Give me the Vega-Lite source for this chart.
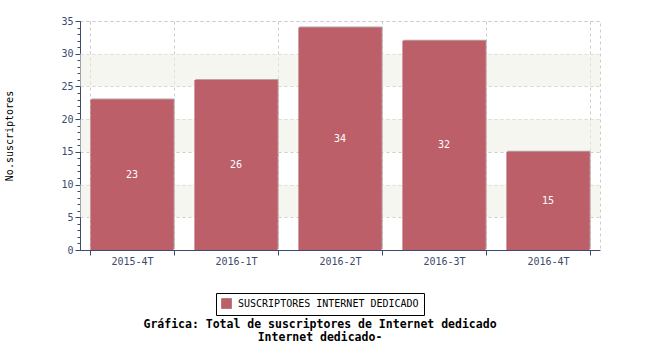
{
  "$schema": "https://vega.github.io/schema/vega-lite/v6.json",
  "width": 520,
  "height": 229,
  "autosize": {"type": "none"},
  "padding": {"left": 80, "top": 21, "right": 50, "bottom": 100},
  "background": "white",
  "config": {
    "font": "DejaVu Sans Mono",
    "view": {"stroke": "#cccccc", "strokeDash": [3, 3]}
  },
  "datasets": {
    "bars": [
      {"periodo": "2015-4T", "valor": 23, "serie": "SUSCRIPTORES INTERNET DEDICADO"},
      {"periodo": "2016-1T", "valor": 26, "serie": "SUSCRIPTORES INTERNET DEDICADO"},
      {"periodo": "2016-2T", "valor": 34, "serie": "SUSCRIPTORES INTERNET DEDICADO"},
      {"periodo": "2016-3T", "valor": 32, "serie": "SUSCRIPTORES INTERNET DEDICADO"},
      {"periodo": "2016-4T", "valor": 15, "serie": "SUSCRIPTORES INTERNET DEDICADO"}
    ],
    "bands": [
      {"desde": 5, "hasta": 10},
      {"desde": 15, "hasta": 20},
      {"desde": 25, "hasta": 30}
    ]
  },
  "title": {
    "text": ["Gráfica: Total de suscriptores de Internet dedicado", "Internet dedicado-"],
    "orient": "bottom",
    "anchor": "middle",
    "font": "DejaVu Sans Mono",
    "fontSize": 11.5,
    "fontWeight": "bold",
    "color": "black",
    "offset": 3,
    "dx": -20,
    "lineHeight": 13
  },
  "resolve": {"scale": {"y": "independent"}, "axis": {"y": "independent"}},
  "layer": [
    {
      "data": {"name": "bands"},
      "mark": {"type": "rect", "color": "#eeeee4", "opacity": 0.55},
      "encoding": {
        "y": {"field": "desde", "type": "quantitative", "scale": {"domain": [0, 35]}, "axis": null},
        "y2": {"field": "hasta"}
      }
    },
    {
      "data": {"name": "bars"},
      "mark": {"type": "bar", "color": "#b9a3a5", "xOffset": 1, "yOffset": -1},
      "encoding": {
        "x": {"field": "periodo", "type": "nominal", "sort": null, "scale": {"paddingInner": 0.2, "paddingOuter": 0.1}},
        "y": {"field": "valor", "type": "quantitative", "scale": {"domain": [0, 35]}, "axis": null}
      }
    },
    {
      "data": {"name": "bars"},
      "mark": {"type": "bar"},
      "encoding": {
        "x": {
          "field": "periodo", "type": "nominal", "sort": null,
          "scale": {"paddingInner": 0.2, "paddingOuter": 0.1},
          "axis": {
            "title": null, "labelAngle": 0, "labelAlign": "center", "tickBand": "extent",
            "grid": true, "gridDash": [3, 3], "gridColor": "#cccccc",
            "tickSize": 5, "tickColor": "#3d4a6e", "domainColor": "#3d4a6e",
            "labelColor": "#3d4a6e", "labelFontSize": 10, "labelPadding": 6
          }
        },
        "y": {
          "field": "valor", "type": "quantitative", "scale": {"domain": [0, 35]},
          "axis": {
            "orient": "left", "title": "No.suscriptores", "values": [0, 5, 10, 15, 20, 25, 30, 35],
            "grid": true, "gridDash": [3, 3], "gridColor": "#cccccc",
            "tickSize": 5, "tickColor": "#3d4a6e", "domainColor": "#3d4a6e",
            "labelColor": "#3d4a6e", "labelFontSize": 10, "labelPadding": 2,
            "titleFontSize": 10, "titleFontWeight": "normal", "titleColor": "black",
            "titleX": -71, "titleBaseline": "middle"
          }
        },
        "color": {
          "field": "serie", "type": "nominal",
          "scale": {"range": ["#bd5f69"]},
          "legend": {
            "orient": "none", "legendX": 136, "legendY": 272, "title": null,
            "strokeColor": "black", "fillColor": "white", "padding": 5,
            "symbolType": "square", "symbolSize": 100, "symbolStrokeColor": "#8a4a52", "symbolStrokeWidth": 0.5,
            "labelFontSize": 10, "labelColor": "black", "labelOffset": 6, "labelLimit": 400
          }
        }
      }
    },
    {
      "data": {"name": "bars"},
      "mark": {"type": "text", "color": "white", "fontSize": 10, "baseline": "middle"},
      "encoding": {
        "x": {"field": "periodo", "type": "nominal", "sort": null},
        "y": {
          "field": "valor", "type": "quantitative", "scale": {"domain": [0, 70]},
          "axis": {
            "orient": "left", "title": null, "labels": false, "domain": false, "grid": false,
            "values": [0, 2, 4, 6, 8, 10, 12, 14, 16, 18, 20, 22, 24, 26, 28, 30, 32, 34, 36, 38, 40, 42, 44, 46, 48, 50, 52, 54, 56, 58, 60, 62, 64, 66, 68, 70],
            "tickSize": 3, "tickColor": "#3d4a6e"
          }
        },
        "text": {"field": "valor", "type": "quantitative"}
      }
    }
  ]
}
